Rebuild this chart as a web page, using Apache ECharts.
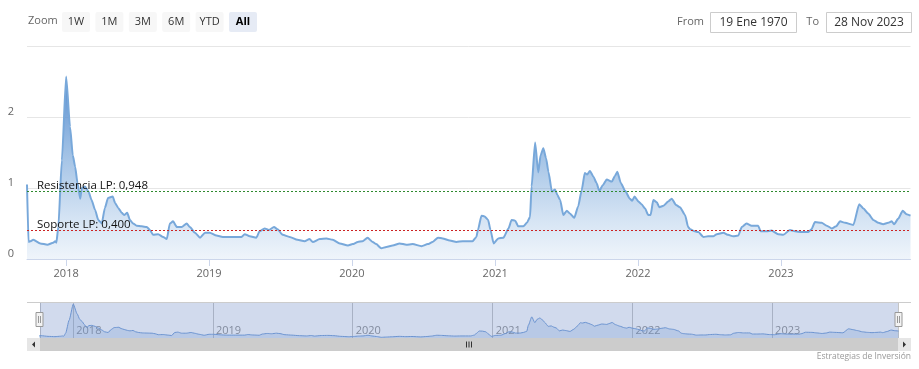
<!DOCTYPE html>
<html>
<head>
<meta charset="utf-8">
<script src="https://cdn.jsdelivr.net/npm/echarts@6/dist/echarts.min.js"></script>
<style>
  html, body { margin: 0; padding: 0; background: #fff; }
  #chart { width: 919px; height: 369px; }
</style>
</head>
<body>
<div id="chart"></div>
<script>
// ---- data ----
const dates = [
 '2017-09-23','2017-09-27','2017-10-01','2017-10-09','2017-10-27','2017-11-14','2017-11-29','2017-12-04','2017-12-07','2017-12-12','2017-12-21',
 '2018-01-01','2018-01-11','2018-01-18','2018-01-24','2018-01-30','2018-02-06','2018-02-10','2018-02-18','2018-02-27','2018-03-07','2018-03-16',
 '2018-03-24','2018-04-02','2018-04-10','2018-04-18','2018-04-30','2018-05-06','2018-05-14','2018-05-23','2018-05-29','2018-06-06','2018-06-13',
 '2018-06-21','2018-06-30','2018-07-13','2018-07-26','2018-08-03','2018-08-11','2018-08-24','2018-09-06','2018-09-15','2018-09-23','2018-10-01',
 '2018-10-11','2018-10-23','2018-11-05','2018-11-13','2018-11-26','2018-12-09','2018-12-22',
 '2019-01-03','2019-01-20','2019-02-05','2019-02-23','2019-03-25','2019-04-02','2019-04-15','2019-05-02','2019-05-10','2019-05-23','2019-06-03',
 '2019-06-16','2019-06-25','2019-07-08','2019-07-26','2019-08-15','2019-09-02','2019-09-15','2019-09-23','2019-10-11','2019-10-28','2019-11-13',
 '2019-12-01','2019-12-22',
 '2020-01-03','2020-01-16','2020-01-28','2020-02-10','2020-02-23','2020-03-03','2020-03-16','2020-03-29','2020-04-14','2020-05-02','2020-05-19',
 '2020-06-04','2020-06-27','2020-07-13','2020-07-25','2020-08-08','2020-08-20','2020-09-07','2020-09-24','2020-10-10','2020-11-04','2020-11-14',
 '2020-11-18','2020-11-27','2020-12-05','2020-12-14','2020-12-20','2020-12-28',
 '2021-01-09','2021-01-22','2021-02-04','2021-02-12','2021-02-21','2021-03-01','2021-03-14','2021-03-23','2021-03-31','2021-04-04','2021-04-13',
 '2021-04-21','2021-04-27','2021-05-04','2021-05-11','2021-05-17','2021-05-26','2021-06-03','2021-06-09','2021-06-16','2021-06-24','2021-07-03',
 '2021-07-11','2021-07-22','2021-08-01','2021-08-10','2021-08-18','2021-08-24','2021-08-31','2021-09-09','2021-09-17','2021-09-24','2021-10-03',
 '2021-10-13','2021-10-26','2021-11-03','2021-11-09','2021-11-18','2021-11-29','2021-12-11','2021-12-17','2021-12-23',
 '2022-01-02','2022-01-10','2022-01-19','2022-01-27','2022-02-02','2022-02-09','2022-02-18','2022-02-24','2022-03-07','2022-03-19','2022-03-28',
 '2022-04-08','2022-04-18','2022-05-01','2022-05-09','2022-05-14','2022-05-26','2022-06-04','2022-06-17','2022-06-29','2022-07-12','2022-07-21',
 '2022-08-07','2022-08-19','2022-09-01','2022-09-14','2022-09-23','2022-10-05','2022-10-18','2022-11-04','2022-11-10','2022-11-25','2022-12-08',
 '2022-12-25',
 '2023-01-07','2023-01-24','2023-02-06','2023-02-23','2023-03-12','2023-03-20','2023-03-29','2023-04-15','2023-04-28','2023-05-11','2023-05-22',
 '2023-06-01','2023-06-14','2023-07-05','2023-07-20','2023-07-31','2023-08-12','2023-08-25','2023-09-07','2023-09-19','2023-10-02','2023-10-11',
 '2023-10-17','2023-10-28','2023-11-08','2023-11-18','2023-11-28'
];
const values = [
 1.05,0.24,0.25,0.27,0.22,0.20,0.23,0.25,0.23,0.45,1.39,
 2.57,1.86,1.46,1.30,1.07,0.85,1.00,1.02,0.95,0.83,0.69,
 0.55,0.50,0.72,0.86,0.88,0.79,0.72,0.65,0.62,0.65,0.55,
 0.50,0.47,0.46,0.45,0.41,0.34,0.35,0.31,0.28,0.50,0.53,
 0.45,0.45,0.50,0.45,0.37,0.30,0.37,
 0.37,0.33,0.31,0.31,0.31,0.35,0.32,0.30,0.39,0.43,0.41,
 0.45,0.42,0.34,0.31,0.27,0.25,0.28,0.24,0.28,0.29,0.27,
 0.22,0.19,
 0.21,0.24,0.25,0.30,0.24,0.21,0.15,0.17,0.19,0.22,0.20,
 0.21,0.18,0.21,0.24,0.30,0.29,0.26,0.24,0.25,0.25,0.31,
 0.41,0.61,0.60,0.55,0.41,0.22,
 0.29,0.30,0.43,0.55,0.54,0.46,0.46,0.51,0.59,1.02,1.64,
 1.22,1.46,1.56,1.42,1.23,0.95,0.98,0.90,0.83,0.62,0.68,
 0.64,0.58,0.74,0.97,1.21,1.19,1.24,1.16,1.07,0.96,1.04,
 1.12,1.09,1.17,1.23,1.07,0.96,0.85,0.82,0.88,
 0.81,0.77,0.71,0.62,0.62,0.83,0.80,0.73,0.75,0.81,0.85,
 0.76,0.73,0.62,0.45,0.42,0.39,0.38,0.31,0.32,0.32,0.35,
 0.37,0.34,0.32,0.33,0.45,0.50,0.47,0.47,0.39,0.39,0.40,
 0.35,
 0.34,0.41,0.39,0.38,0.38,0.42,0.52,0.51,0.47,0.43,0.46,
 0.53,0.51,0.48,0.77,0.71,0.64,0.55,0.51,0.49,0.51,0.53,
 0.49,0.57,0.68,0.63,0.61
];
const resistance = 0.948;
const support = 0.400;
const resistanceLabel = 'Resistencia LP: 0,948';
const supportLabel = 'Soporte LP: 0,400';
const rangeButtons = ['1W','1M','3M','6M','YTD','All'];
const fromDate = '19 Ene 1970';
const toDate = '28 Nov 2023';
const xMin = '2017-09-23';
const xMax = '2023-11-28';
const navMin = '2017-10-06';
const navMax = '2023-11-26';
const creditText = 'Estrategias de Inversión';

const seriesData = dates.map((d, i) => [d, values[i]]);
const FONT = '"Open Sans", sans-serif';
const YEAR = 365 * 24 * 3600 * 1000;

const chart = echarts.init(document.getElementById('chart'), null, { renderer: 'canvas' });

const graphics = [];
// range selector
graphics.push({ type: 'text', left: 28, top: 15, style: { text: 'Zoom', fill: '#666', font: '11px ' + FONT } });
rangeButtons.forEach((b, i) => {
  const x = 62 + i * 33.4;
  const sel = b === 'All';
  graphics.push({ type: 'rect', shape: { x: x, y: 12, width: 28, height: 20, r: 2 },
    style: { fill: sel ? '#e6ebf5' : '#f7f7f7' } });
  graphics.push({ type: 'text', x: x + 14, y: 22,
    style: { text: b, fill: sel ? '#000' : '#333', font: (sel ? 'bold ' : '') + '11px ' + FONT, align: 'center', verticalAlign: 'middle' } });
});
// from / to
graphics.push({ type: 'text', x: 704, y: 22, style: { text: 'From', fill: '#666', font: '11px ' + FONT, align: 'right', verticalAlign: 'middle' } });
graphics.push({ type: 'rect', shape: { x: 710.5, y: 12.5, width: 86, height: 20 }, style: { fill: '#fff', stroke: '#cccccc', lineWidth: 1 } });
graphics.push({ type: 'text', x: 753.5, y: 22.5, style: { text: fromDate, fill: '#333', font: '12px ' + FONT, align: 'center', verticalAlign: 'middle' } });
graphics.push({ type: 'text', x: 819, y: 22, style: { text: 'To', fill: '#666', font: '11px ' + FONT, align: 'right', verticalAlign: 'middle' } });
graphics.push({ type: 'rect', shape: { x: 826.5, y: 12.5, width: 85, height: 20 }, style: { fill: '#fff', stroke: '#cccccc', lineWidth: 1 } });
graphics.push({ type: 'text', x: 869, y: 22.5, style: { text: toDate, fill: '#333', font: '12px ' + FONT, align: 'center', verticalAlign: 'middle' } });
// navigator outline, mask and handles
graphics.push({ type: 'line', shape: { x1: 27, y1: 302.5, x2: 911, y2: 302.5 }, style: { stroke: '#cccccc', lineWidth: 1 }, z: 101 });
graphics.push({ type: 'rect', shape: { x: 40, y: 303, width: 858, height: 35 }, style: { fill: 'rgba(102,133,194,0.3)' }, z: 100, silent: true });
[39.5, 898.5].forEach(hx => {
  graphics.push({ type: 'rect', shape: { x: hx - 3.5, y: 312.5, width: 7, height: 14 }, style: { fill: '#f2f2f2', stroke: '#999999', lineWidth: 1 }, z: 102 });
  graphics.push({ type: 'line', shape: { x1: hx - 1, y1: 316, x2: hx - 1, y2: 323 }, style: { stroke: '#999999', lineWidth: 1 }, z: 103 });
  graphics.push({ type: 'line', shape: { x1: hx + 1, y1: 316, x2: hx + 1, y2: 323 }, style: { stroke: '#999999', lineWidth: 1 }, z: 103 });
});
// scrollbar
graphics.push({ type: 'rect', shape: { x: 27, y: 338, width: 884, height: 13 }, style: { fill: '#f2f2f2' }, z: 100 });
graphics.push({ type: 'rect', shape: { x: 40, y: 338, width: 858, height: 13 }, style: { fill: '#cccccc' }, z: 101 });
graphics.push({ type: 'rect', shape: { x: 27, y: 338, width: 13, height: 13 }, style: { fill: '#e6e6e6' }, z: 101 });
graphics.push({ type: 'rect', shape: { x: 898, y: 338, width: 13, height: 13 }, style: { fill: '#e6e6e6' }, z: 101 });
graphics.push({ type: 'polygon', shape: { points: [[35, 341.5], [35, 347.5], [32, 344.5]] }, style: { fill: '#333' }, z: 102 });
graphics.push({ type: 'polygon', shape: { points: [[903, 341.5], [903, 347.5], [906, 344.5]] }, style: { fill: '#333' }, z: 102 });
[466.5, 469, 471.5].forEach(gx => {
  graphics.push({ type: 'line', shape: { x1: gx, y1: 341.5, x2: gx, y2: 347.5 }, style: { stroke: '#333', lineWidth: 1 }, z: 102 });
});
// credits
graphics.push({ type: 'text', x: 911, y: 357, style: { text: creditText, fill: '#999999', font: '8.5px ' + FONT, align: 'right', verticalAlign: 'middle' } });

const option = {
  animation: false,
  backgroundColor: '#ffffff',
  textStyle: { fontFamily: FONT },
  grid: [
    { left: 27, right: 8.5, top: 46, height: 213 },
    { left: 40, right: 21, top: 303, height: 35 }
  ],
  xAxis: [
    {
      type: 'time', gridIndex: 0, min: xMin, max: xMax,
      minInterval: YEAR, maxInterval: YEAR * 1.01, splitNumber: 6,
      axisLine: { lineStyle: { color: '#ccd6eb' } },
      axisTick: { show: true, length: 7, lineStyle: { color: '#ccd6eb' } },
      splitLine: { show: false },
      axisLabel: { formatter: '{yyyy}', color: '#666', fontSize: 11, margin: 9, showMinLabel: false, showMaxLabel: false, fontFamily: FONT }
    },
    {
      type: 'time', gridIndex: 1, min: navMin, max: navMax,
      minInterval: YEAR, maxInterval: YEAR * 1.01, splitNumber: 6,
      axisLine: { show: false }, axisTick: { show: false },
      splitLine: { show: true, lineStyle: { color: '#c4c4c4', width: 1 } },
      axisLabel: { inside: true, align: 'left', formatter: '{yyyy}', color: '#8f8f8f', fontSize: 11, margin: 2, padding: [0, 0, 0, 3], showMinLabel: false, showMaxLabel: false, fontFamily: FONT }
    }
  ],
  yAxis: [
    {
      type: 'value', gridIndex: 0, min: 0, max: 3, interval: 1,
      axisLine: { show: false }, axisTick: { show: false },
      splitLine: { lineStyle: { color: '#e6e6e6' } },
      axisLabel: { color: '#666', fontSize: 11, margin: 13, verticalAlign: 'bottom', showMaxLabel: false, fontFamily: FONT }
    },
    {
      type: 'value', gridIndex: 1, min: 0.1, max: 2.65, show: false, splitLine: { show: false }
    }
  ],
  series: [
    {
      type: 'line', xAxisIndex: 0, yAxisIndex: 0, data: seriesData,
      showSymbol: false, smooth: 0.2, smoothMonotone: 'x',
      lineStyle: { color: '#78a8da', width: 2 },
      areaStyle: {
        opacity: 1,
        color: new echarts.graphic.LinearGradient(0, 0, 0, 1, [
          { offset: 0, color: 'rgba(84,138,206,1)' },
          { offset: 0.45, color: 'rgba(110,160,215,0.62)' },
          { offset: 0.8, color: 'rgba(124,170,220,0.3)' },
          { offset: 1, color: 'rgba(124,170,220,0.12)' }
        ])
      },
      markLine: {
        silent: true, symbol: 'none', animation: false,
        data: [
          { yAxis: resistance, lineStyle: { color: '#2f8a2f', type: [2, 2], width: 1 },
            label: { formatter: resistanceLabel, position: 'insideStartTop', distance: [10, 0], color: '#111', fontSize: 11.5, fontFamily: FONT } },
          { yAxis: support, lineStyle: { color: '#cc2222', type: [2, 2], width: 1 },
            label: { formatter: supportLabel, position: 'insideStartTop', distance: [10, 0], color: '#111', fontSize: 11.5, fontFamily: FONT } }
        ]
      }
    },
    {
      type: 'line', xAxisIndex: 1, yAxisIndex: 1, data: seriesData,
      showSymbol: false, smooth: 0.2, smoothMonotone: 'x',
      lineStyle: { color: '#6f9bd6', width: 1 },
      areaStyle: { color: 'rgba(111,155,214,0.35)' }
    }
  ],
  graphic: graphics
};
chart.setOption(option);
</script>
</body>
</html>
